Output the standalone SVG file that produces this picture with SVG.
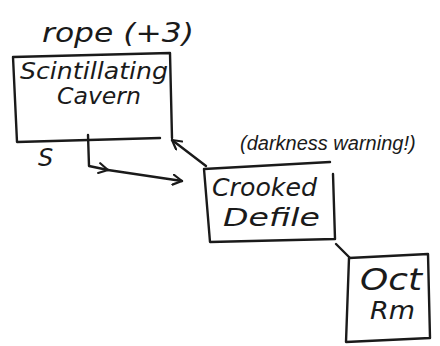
<svg xmlns="http://www.w3.org/2000/svg" width="440" height="346" viewBox="0 0 440 346">
  <style>
    .ink { fill: none; stroke: #1a1a1a; stroke-width: 2.4; stroke-linecap: round; stroke-linejoin: round; }
    .lbl { font-family: "DejaVu Sans", "Liberation Sans", sans-serif; font-style: italic; fill: #1a1a1a; }
    .note { font-family: "DejaVu Sans", "Liberation Sans", sans-serif; font-style: italic; fill: #1a1a1a; }
    .narrow { font-family: "Liberation Sans", "DejaVu Sans", sans-serif; font-style: italic; fill: #1a1a1a; }
  </style>
  <defs>
    <marker id="head" viewBox="0 0 12 12" refX="10" refY="6" markerWidth="12" markerHeight="12" markerUnits="userSpaceOnUse" orient="auto">
      <path d="M1,1 L10,6 L1,11" fill="none" stroke="#1a1a1a" stroke-width="2.2" stroke-linecap="round" stroke-linejoin="round"/>
    </marker>
  </defs>
  <rect width="440" height="346" fill="#ffffff"/>

  <g id="connectors">
    <!-- S exit: down from the cavern, then right to Crooked Defile -->
    <path class="ink" d="M88,135 L89,166 L108,170" marker-end="url(#head)"/>
    <path class="ink" d="M108,170 L182,181" marker-end="url(#head)"/>
    <!-- return path from Crooked Defile up to the cavern -->
    <path class="ink" d="M206,166 L172,140" marker-end="url(#head)"/>
    <!-- Crooked Defile down to Oct Rm -->
    <path class="ink" d="M336,244 L350,258"/>
  </g>

  <g id="scintillating-cavern">
    <path class="ink" d="M13,57 L170,53 L172,138 M13,57 L17,142 L160,138"/>
    <text class="lbl" x="20" y="79" font-size="23" textLength="148" lengthAdjust="spacingAndGlyphs">Scintillating</text>
    <text class="lbl" x="57" y="104" font-size="23" textLength="84" lengthAdjust="spacingAndGlyphs">Cavern</text>
    <text class="note" x="42" y="42" font-size="26" textLength="152" lengthAdjust="spacingAndGlyphs">rope (+3)</text>
    <text class="note" x="38" y="166" font-size="24">S</text>
  </g>

  <g id="crooked-defile">
    <path class="ink" d="M204,169 L330,162 M204,169 L210,242 L335,239 L333,174"/>
    <text class="lbl" x="212" y="196" font-size="24" textLength="105" lengthAdjust="spacingAndGlyphs">Crooked</text>
    <text class="lbl" x="223" y="226" font-size="24" textLength="97" lengthAdjust="spacingAndGlyphs">Defile</text>
    <text class="narrow" x="240" y="150" font-size="20">(darkness warning!)</text>
  </g>

  <g id="oct-rm">
    <path class="ink" d="M349,258 L428,254 L430,338 L346,342 Z"/>
    <text class="lbl" x="360" y="290" font-size="30" textLength="62" lengthAdjust="spacingAndGlyphs">Oct</text>
    <text class="lbl" x="370" y="319" font-size="24" textLength="45" lengthAdjust="spacingAndGlyphs">Rm</text>
  </g>
</svg>
